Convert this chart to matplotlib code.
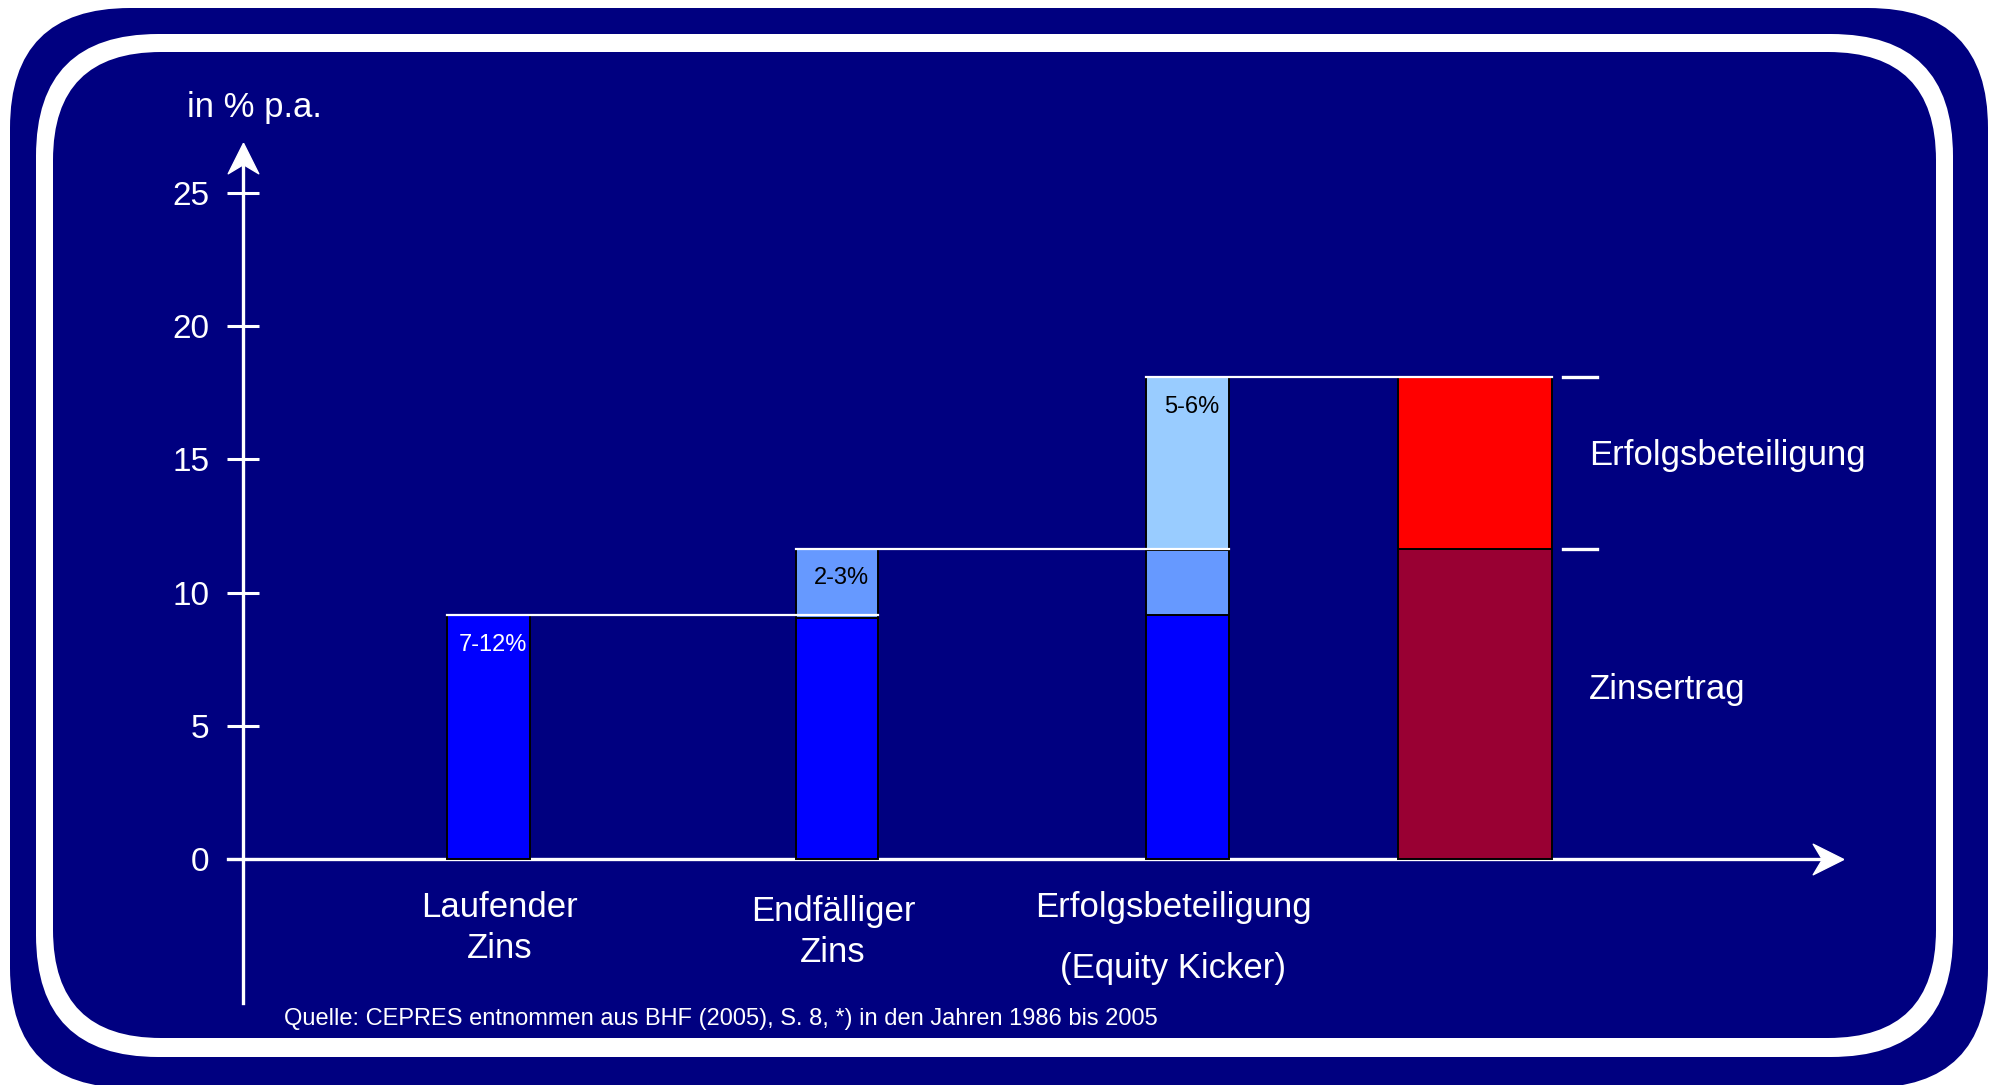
import matplotlib.pyplot as plt
from matplotlib.patches import FancyBboxPatch
from matplotlib.path import Path

plt.rcParams['font.family'] = ['Liberation Sans', 'DejaVu Sans']

# --- data (in % p.a.) ---
categories = ["Laufender\nZins", "Endfälliger\nZins", "Erfolgsbeteiligung\n(Equity Kicker)", ""]
laufender_zins = [9.15, 9.05, 9.15, 0]
endfaelliger_zins = [0, 2.6, 2.45, 0]
equity_kicker = [0, 0, 6.5, 0]
zinsertrag = [0, 0, 0, 11.65]
erfolgsbeteiligung = [0, 0, 0, 6.45]
range_labels = ["7-12%", "2-3%", "5-6%"]
range_label_colors = ["white", "black", "black"]
right_labels = ["Zinsertrag", "Erfolgsbeteiligung"]
yticks = [0, 5, 10, 15, 20, 25]
source = "Quelle: CEPRES entnommen aus BHF (2005), S. 8, *) in den Jahren 1986 bis 2005"

# --- layout (pixel columns of the slide) ---
W, H = 1989, 1085
bar_x = [488.5, 837, 1187.5, 1475]
bar_w = [83, 82, 83, 154]
label_x = [500, 833, 1173]
label_top = [891, 895, 891]
label_spacing = [1.32, 1.32, 2.08]
px_per_unit = 26.64
zero_px = 859

navy = '#000080'
fig = plt.figure(figsize=(W / 100, H / 100), dpi=100, facecolor='white')

# background slide frame, pixel coordinates
bg = fig.add_axes([0, 0, 1, 1])
bg.set_xlim(0, W)
bg.set_ylim(H, 0)
bg.axis('off')
bg.add_patch(FancyBboxPatch((10, 8), 1978, 1080, boxstyle="round,pad=0,rounding_size=120",
                            fc=navy, ec='none'))
bg.add_patch(FancyBboxPatch((36, 34), 1917, 1023, boxstyle="round,pad=0,rounding_size=122",
                            fc='white', ec='none'))
bg.add_patch(FancyBboxPatch((53, 52), 1883, 986, boxstyle="round,pad=0,rounding_size=108",
                            fc=navy, ec='none'))

# chart axes: x in pixel columns, y in % p.a.
ax = fig.add_axes([0, 0, 1, 1], facecolor='none')
ax.set_xlim(0, W)
ax.set_ylim((zero_px - H) / px_per_unit, zero_px / px_per_unit)
for s in ax.spines.values():
    s.set_visible(False)
ax.spines['left'].set_position(('data', 243))
ax.set_xticks([])
ax.set_yticks(yticks)
ax.tick_params(axis='y', direction='inout', length=22.5, width=2.2, color='white',
               labelcolor='white', labelsize=24, pad=13)

# axis lines with notched arrow heads
ax.plot([243, 243], [-5.41, 26.3], color='white', lw=2.4, zorder=1)
ax.plot([228, 1830], [0, 0], color='white', lw=2.4, zorder=1)
head_up = Path([(0, 0.5), (-0.5, -0.5), (0, -0.2), (0.5, -0.5), (0, 0.5)])
head_right = Path([(0.5, 0), (-0.5, 0.5), (-0.2, 0), (-0.5, -0.5), (0.5, 0)])
ax.plot([243], [26.3], marker=head_up, ms=22, color='white', mec='white', zorder=2)
ax.plot([1828], [0], marker=head_right, ms=22, color='white', mec='white', zorder=2)

# stacked bars
segments = [(laufender_zins, '#0000FF'), (endfaelliger_zins, '#6699FF'),
            (equity_kicker, '#99CCFF'), (zinsertrag, '#990033'),
            (erfolgsbeteiligung, '#FF0000')]
bottoms = [0] * len(bar_x)
for values, color in segments:
    for i, v in enumerate(values):
        if v > 0:
            ax.bar(bar_x[i], v, width=bar_w[i], bottom=bottoms[i], color=color,
                   edgecolor='black', linewidth=1.4, zorder=3)
            bottoms[i] += v
tops = bottoms

# connector lines between bar tops
for i in range(3):
    ax.plot([bar_x[i] - bar_w[i] / 2, bar_x[i + 1] + bar_w[i + 1] / 2], [tops[i], tops[i]],
            color='white', lw=1.6, zorder=4)

# range labels inside the top segment of each bar
for i, (txt, c) in enumerate(zip(range_labels, range_label_colors)):
    ax.text(bar_x[i] + 4, tops[i] - 1.12, txt, color=c, fontsize=17,
            ha='center', va='center', zorder=5)

# level markers and labels to the right of the last bar
levels = [zinsertrag[3], zinsertrag[3] + erfolgsbeteiligung[3]]
for lv in levels:
    ax.plot([1563, 1597], [lv, lv], color='white', lw=2.4, zorder=4)
ax.text(1589, levels[0] / 2 + 0.53, right_labels[0], color='white', fontsize=25,
        ha='left', va='center')
ax.text(1589, (levels[0] + levels[1]) / 2 + 0.29, right_labels[1], color='white', fontsize=25,
        ha='left', va='center')

# category labels below the axis
for i, lab in enumerate(categories[:3]):
    bg.text(label_x[i], label_top[i], lab, color='white', fontsize=25, ha='center', va='top',
            linespacing=label_spacing[i])

bg.text(254, 108, "in % p.a.", color='white', fontsize=25, ha='center', va='center')
bg.text(284, 1019, source, color='white', fontsize=17, ha='left', va='center')

fig.savefig('out.png', dpi=100, facecolor='white')
